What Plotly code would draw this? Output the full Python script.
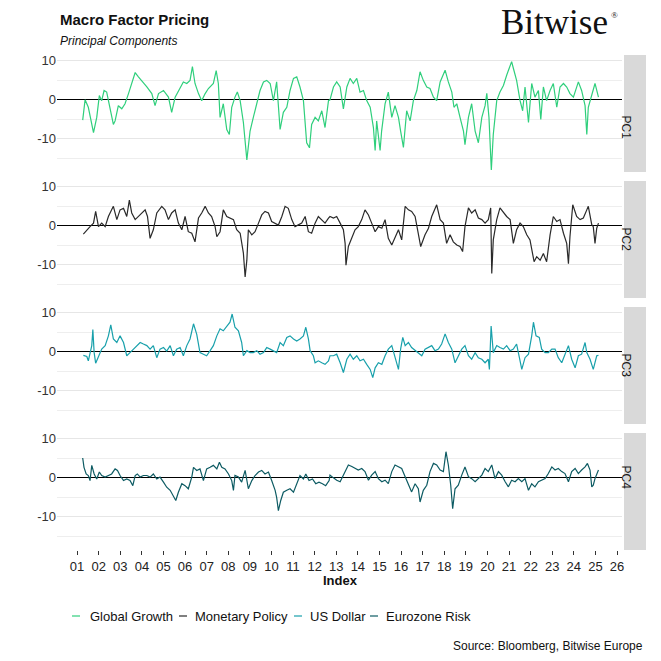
import plotly.graph_objects as go
from plotly.subplots import make_subplots

# ---------------- data (decimal years, factor values) ----------------
gg_year = [2001.26, 2001.37, 2001.52, 2001.76, 2001.91, 2002.03, 2002.14, 2002.25, 2002.37, 2002.53,
           2002.68, 2002.76, 2002.91, 2003.07, 2003.22, 2003.38, 2003.53, 2003.69, 2003.84, 2003.99,
           2004.23, 2004.46, 2004.61, 2004.77, 2005.00, 2005.23, 2005.38, 2005.54, 2005.77, 2005.92,
           2006.08, 2006.23, 2006.34, 2006.46, 2006.62, 2006.77, 2006.93, 2007.08, 2007.31, 2007.44,
           2007.54, 2007.62, 2007.77, 2007.93, 2008.05, 2008.16, 2008.31, 2008.42, 2008.55, 2008.70,
           2008.86, 2009.01, 2009.16, 2009.32, 2009.47, 2009.63, 2009.78, 2009.94, 2010.09, 2010.24,
           2010.40, 2010.55, 2010.71, 2010.86, 2011.02, 2011.17, 2011.32, 2011.48, 2011.63, 2011.76,
           2011.86, 2012.02, 2012.17, 2012.33, 2012.48, 2012.64,
           2012.71, 2012.87, 2013.02, 2013.18, 2013.33, 2013.49, 2013.64, 2013.79, 2013.95, 2014.10,
           2014.26, 2014.41, 2014.57, 2014.72, 2014.80, 2014.87, 2015.03, 2015.10, 2015.26, 2015.41,
           2015.57, 2015.72, 2015.88, 2015.98, 2016.11, 2016.26, 2016.42, 2016.57, 2016.73, 2016.88,
           2017.03, 2017.19, 2017.34, 2017.50, 2017.65, 2017.81, 2018.04, 2018.19, 2018.35, 2018.45,
           2018.58, 2018.73, 2018.89, 2018.96, 2019.12, 2019.27, 2019.43, 2019.58, 2019.74, 2019.89,
           2019.97, 2020.07, 2020.18, 2020.27, 2020.43, 2020.58, 2020.74, 2020.89, 2021.05, 2021.12,
           2021.20, 2021.35, 2021.51, 2021.63, 2021.74, 2021.90, 2022.05, 2022.20, 2022.36, 2022.47,
           2022.59, 2022.74, 2022.90, 2023.05, 2023.21, 2023.36, 2023.52, 2023.67, 2023.82, 2023.98,
           2024.21, 2024.36, 2024.52, 2024.60, 2024.67, 2024.83, 2024.98, 2025.14]
gg_val = [-5.2, 0.0, -1.9, -8.4, -4.5, 1.1, -0.2, 2.4, 2.0, -1.9,
          -6.3, -5.4, -1.5, -2.3, -1.0, 1.6, 4.2, 7.0, 5.9, 5.0,
          3.3, 1.6, -1.5, 1.6, 2.4, 0.7, -3.2, 0.7, 3.3, 4.6,
          4.2, 5.0, 8.5, 4.2, 1.6, -0.2, 1.6, 2.9, 4.2, 7.5,
          4.2, -4.5, -1.0, -7.6, -8.9, -1.9, 0.7, 2.0, -0.2, -5.8,
          -15.4, -8.0, -4.5, -1.0, 2.4, 4.6, 5.0, 4.2, -0.2, 4.6,
          -7.6, -3.2, -1.9, 2.4, 5.5, 5.9, 3.3, -0.2, -11.0, -12.3,
          -6.3, -4.5, -5.4, -2.8, -7.1, -0.2,
          0.0, 3.3, 4.6, 3.3, -2.3, 3.3, 5.5, 4.2, 5.5, 2.0,
          2.4, -0.2, -1.9, -7.1, -13.0, -5.4, -13.0, -8.0, -1.0, 2.0,
          -4.5, -1.5, -4.5, -8.0, -12.2, -2.8, -5.4, -0.2, 2.4, 7.2,
          5.0, 3.3, 2.9, 0.7, -0.2, 4.6, 7.6, 4.6, 2.0, -1.9,
          -1.0, -4.5, -8.0, -11.5, -4.5, -1.0, -8.0, -11.0, -4.5, -1.5,
          1.7, -4.5, -18.0, -8.9, -0.2, 2.0, 3.7, 6.3, 8.5, 9.8,
          8.1, 5.0, -0.2, -2.8, 3.3, -5.8, 4.2, 0.7, 2.4, -5.0,
          3.3, -0.2, 2.4, 4.2, -1.9, 3.3, 4.2, 3.3, 1.6, 0.7,
          4.6, 2.4, -1.5, -8.9, -1.9, 1.6, 4.2, 0.7]

mp_year = [2001.29, 2001.45, 2001.60, 2001.76, 2001.86, 2001.99, 2002.14, 2002.30, 2002.45, 2002.60,
           2002.68, 2002.84, 2002.99, 2003.15, 2003.30, 2003.42, 2003.53, 2003.69, 2003.84, 2003.99,
           2004.15, 2004.26, 2004.38, 2004.53, 2004.69, 2004.92, 2005.07, 2005.23, 2005.38, 2005.54,
           2005.69, 2005.85, 2006.00, 2006.15, 2006.31, 2006.46, 2006.62, 2006.77, 2006.93, 2007.08,
           2007.23, 2007.39, 2007.47, 2007.62, 2007.77, 2007.93, 2008.08, 2008.24, 2008.39, 2008.55,
           2008.70, 2008.78, 2008.86, 2008.93, 2009.09, 2009.24, 2009.40, 2009.55, 2009.70, 2009.86,
           2010.01, 2010.17, 2010.32, 2010.48, 2010.63, 2010.78, 2010.94, 2011.09, 2011.25, 2011.40,
           2011.56, 2011.71, 2011.86, 2012.02, 2012.17, 2012.33, 2012.48, 2012.64,
           2012.71, 2012.87, 2013.02, 2013.18, 2013.33, 2013.41, 2013.45, 2013.56, 2013.72, 2013.87,
           2014.02, 2014.18, 2014.33, 2014.49, 2014.64, 2014.80, 2014.95, 2015.11, 2015.26, 2015.41,
           2015.57, 2015.72, 2015.88, 2016.03, 2016.19, 2016.34, 2016.49, 2016.65, 2016.80, 2016.91,
           2017.11, 2017.27, 2017.42, 2017.57, 2017.65, 2017.81, 2017.96, 2018.11, 2018.27, 2018.42,
           2018.58, 2018.73, 2018.85, 2018.96, 2019.12, 2019.27, 2019.43, 2019.58, 2019.74, 2019.89,
           2020.04, 2020.15, 2020.20, 2020.27, 2020.43, 2020.58, 2020.74, 2020.89, 2021.05, 2021.12,
           2021.20, 2021.35, 2021.51, 2021.66, 2021.82, 2021.97, 2022.05, 2022.16, 2022.28, 2022.44,
           2022.59, 2022.74, 2022.90, 2023.05, 2023.21, 2023.36, 2023.52, 2023.67, 2023.75, 2023.82,
           2023.95, 2024.13, 2024.29, 2024.44, 2024.60, 2024.67, 2024.83, 2024.90, 2024.98, 2025.06,
           2025.14]
mp_val = [-2.1, -1.0, -0.2, 0.7, 3.7, -0.2, 0.7, -0.2, 2.4, 4.1,
          5.0, 1.6, 4.1, 4.5, 2.4, 6.6, 3.3, 1.6, 2.4, 3.3,
          4.1, 2.4, -3.2, -1.0, 3.3, 5.0, 4.1, 1.6, 3.3, 4.1,
          0.7, -1.0, 2.4, -1.5, -1.9, -4.1, 2.0, 3.3, 5.0, 3.3,
          2.4, -0.2, -2.8, -1.5, 4.1, 2.4, 2.0, 1.6, -1.0, -1.9,
          -7.0, -13.1, -8.8, -1.0, -2.3, -1.5, 0.7, 2.8, 3.7, 3.3,
          1.1, 0.7, 0.2, 2.4, 5.0, 4.5, 1.6, -0.2, 0.2, 0.7,
          2.4, -1.5, -1.9, 0.7, 2.4, 1.6, 0.7, 2.0,
          2.4, 2.0, 2.4, 0.7, -1.0, -4.5, -10.1, -5.3, -3.2, -1.0,
          -0.2, 1.6, 4.1, 2.8, 0.7, -1.5, -0.2, -0.6, 1.6, -3.2,
          -4.9, -2.8, -1.0, -3.6, 5.0, 4.1, 3.7, 2.4, -1.9, -5.3,
          -2.3, -0.6, 2.4, 4.1, 5.4, 1.6, 0.7, -4.5, -2.3, -4.1,
          -4.9, -5.3, -6.6, -0.2, 4.6, 3.3, 4.1, 2.0, 1.6, 0.7,
          1.6, 4.6, -12.2, -3.6, 1.6, 4.6, 3.3, 2.4, 1.6, -1.0,
          -4.5, -1.0, 0.7, -0.2, -2.3, -3.6, -6.2, -9.2, -7.9, -8.8,
          -7.1, -9.2, -2.3, 2.4, 1.1, 1.6, -1.9, -4.5, -9.7, -2.8,
          5.4, 2.4, 1.6, 2.0, 4.1, 5.0, 0.3, -0.2, -4.5, -0.6,
          0.7]

usd_year = [2001.29, 2001.45, 2001.52, 2001.60, 2001.68, 2001.73, 2001.79, 2001.86, 2001.99, 2002.14,
            2002.30, 2002.45, 2002.56, 2002.68, 2002.84, 2002.99, 2003.15, 2003.30, 2003.45, 2003.61,
            2003.76, 2003.92, 2004.07, 2004.23, 2004.38, 2004.53, 2004.69, 2004.84, 2005.00, 2005.15,
            2005.31, 2005.46, 2005.61, 2005.77, 2005.92, 2006.08, 2006.23, 2006.39, 2006.54, 2006.69,
            2006.85, 2007.00, 2007.16, 2007.31, 2007.47, 2007.62, 2007.77, 2007.93, 2008.08, 2008.18,
            2008.31, 2008.47, 2008.62, 2008.70, 2008.86, 2009.01, 2009.16, 2009.32, 2009.47, 2009.63,
            2009.78, 2009.94, 2010.09, 2010.24, 2010.40, 2010.55, 2010.71, 2010.86, 2011.02, 2011.17,
            2011.32, 2011.48, 2011.59, 2011.71, 2011.79, 2011.94, 2012.02, 2012.17, 2012.33, 2012.48,
            2012.64,
            2012.71, 2012.87, 2013.02, 2013.18, 2013.33, 2013.49, 2013.64, 2013.79, 2013.95, 2014.10,
            2014.26, 2014.41, 2014.57, 2014.69, 2014.80, 2014.95, 2015.11, 2015.26, 2015.41, 2015.57,
            2015.72, 2015.88, 2015.98, 2016.08, 2016.19, 2016.34, 2016.49, 2016.65, 2016.80, 2016.96,
            2017.11, 2017.27, 2017.42, 2017.57, 2017.73, 2017.88, 2018.04, 2018.19, 2018.35, 2018.50,
            2018.65, 2018.81, 2018.96, 2019.12, 2019.27, 2019.43, 2019.58, 2019.74, 2019.89, 2020.04,
            2020.09, 2020.17, 2020.27, 2020.43, 2020.58, 2020.74, 2020.89, 2021.05, 2021.20, 2021.35,
            2021.51, 2021.59, 2021.74, 2021.90, 2022.05, 2022.13, 2022.25, 2022.40, 2022.51, 2022.67,
            2022.82, 2022.98, 2023.13, 2023.28, 2023.44, 2023.59, 2023.75, 2023.90, 2024.06, 2024.21,
            2024.36, 2024.52, 2024.60, 2024.75, 2024.90, 2025.06, 2025.14]
usd_val = [-0.9, -1.2, -2.3, -0.2, 1.6, 5.7, -0.2, -2.9, -1.0, 0.7,
           1.6, 4.1, 6.9, 3.3, 2.4, 4.1, 2.4, -1.0, -0.2, 0.7,
           1.6, 2.4, 2.0, 1.6, 0.7, 1.6, -1.5, 0.7, 1.1, 0.2,
           1.6, -1.0, 0.7, 1.1, -1.0, 1.6, 3.3, 7.2, 4.5, -0.2,
           -0.6, -1.0, 0.3, 1.6, 4.1, 5.9, 5.4, 6.7, 7.6, 9.7,
           6.3, 5.4, 2.4, -1.0, 0.3, -0.2, -0.2, 0.3, -0.6, -0.2,
           1.1, 0.7, 0.3, -0.2, 2.4, 1.6, 3.7, 4.1, 3.3, 2.8,
           3.3, 4.1, 6.3, 3.3, 0.3, -1.0, -2.8, -2.3, -2.8, -3.2,
           -2.3,
           -1.0, -1.0, -0.6, -2.8, -5.3, -1.9, -0.6, -1.9, -1.0, -2.3,
           -1.9, -3.2, -4.5, -6.6, -4.1, -2.8, -3.2, -1.0, 0.7, 1.6,
           -1.5, -4.5, 0.7, 3.7, 1.6, 2.4, 1.1, 0.3, -0.2, -1.0,
           0.7, 1.1, 1.6, 0.3, 0.7, 2.0, 4.6, 2.4, 0.7, -2.8,
           -1.0, 0.7, 1.6, -1.0, -1.9, -0.2, -1.5, -1.9, -2.8, -1.9,
           -4.5, 6.6, -0.2, 1.6, 1.1, 0.7, 1.6, 0.3, 0.7, 2.0,
           -2.3, -4.5, -1.5, -0.6, 4.1, 7.6, 4.1, 3.7, 0.7, -0.2,
           -0.2, 0.7, 0.7, -1.5, -2.8, -0.6, 1.6, -1.9, -4.1, -1.0,
           -0.6, 2.4, -0.2, -1.9, -4.5, -1.0, -0.9]

ez_year = [2001.26, 2001.32, 2001.42, 2001.52, 2001.60, 2001.68, 2001.79, 2001.91, 2002.03, 2002.14,
           2002.30, 2002.45, 2002.60, 2002.76, 2002.87, 2002.99, 2003.15, 2003.30, 2003.45, 2003.58,
           2003.69, 2003.79, 2003.92, 2004.07, 2004.23, 2004.38, 2004.53, 2004.69, 2004.84, 2005.00,
           2005.15, 2005.31, 2005.46, 2005.57, 2005.69, 2005.85, 2006.00, 2006.15, 2006.31, 2006.39,
           2006.54, 2006.69, 2006.85, 2007.00, 2007.16, 2007.31, 2007.47, 2007.59, 2007.70, 2007.85,
           2008.01, 2008.16, 2008.24, 2008.31, 2008.47, 2008.62, 2008.78, 2008.93, 2009.09, 2009.24,
           2009.40, 2009.55, 2009.70, 2009.86, 2010.01, 2010.17, 2010.24, 2010.32, 2010.43, 2010.55,
           2010.71, 2010.86, 2011.02, 2011.17, 2011.32, 2011.48, 2011.59, 2011.74, 2011.90, 2012.05,
           2012.20, 2012.36, 2012.51, 2012.67,
           2012.71, 2012.87, 2013.02, 2013.18, 2013.33, 2013.41, 2013.56, 2013.72, 2013.87, 2014.02,
           2014.18, 2014.33, 2014.49, 2014.64, 2014.80, 2014.95, 2015.11, 2015.26, 2015.41, 2015.57,
           2015.72, 2015.88, 2016.03, 2016.19, 2016.34, 2016.49, 2016.65, 2016.80, 2016.88, 2017.03,
           2017.19, 2017.34, 2017.50, 2017.65, 2017.81, 2017.96, 2018.08, 2018.19, 2018.30, 2018.39,
           2018.50, 2018.65, 2018.81, 2018.96, 2019.12, 2019.27, 2019.43, 2019.58, 2019.74, 2019.89,
           2020.04, 2020.20, 2020.35, 2020.51, 2020.66, 2020.82, 2020.97, 2021.12, 2021.28, 2021.43,
           2021.59, 2021.74, 2021.90, 2022.05, 2022.20, 2022.36, 2022.51, 2022.67, 2022.82, 2022.98,
           2023.13, 2023.28, 2023.44, 2023.59, 2023.75, 2023.90, 2024.06, 2024.21, 2024.36, 2024.52,
           2024.63, 2024.75, 2024.83, 2024.90, 2024.98, 2025.14]
ez_val = [5.1, 2.7, 1.0, 0.6, -0.7, 3.2, 1.0, -0.3, 1.5, 0.6,
          0.2, 0.6, 1.0, 2.3, 1.9, 0.6, -0.7, -0.3, -0.7, -2.0,
          0.6, 1.0, 0.2, 0.6, 0.6, 0.2, 1.0, -0.3, 0.2, -1.1,
          -2.4, -3.2, -4.5, -5.8, -3.7, -1.5, -2.0, -2.8, 0.2, 2.7,
          1.9, 2.3, -0.7, 2.3, 2.7, 3.2, 2.3, 4.0, 2.7, 2.3,
          1.0, -0.7, -3.2, 0.6, 0.2, -1.1, 1.9, -2.8, -0.7, 0.6,
          1.5, 1.9, 1.0, 1.5, -0.7, -3.2, -5.0, -8.4, -5.8, -3.7,
          -3.2, -2.8, -3.7, -1.5, 0.6, -0.3, 1.0, -0.7, -0.3, -1.5,
          -1.1, -1.5, -2.0, -0.7,
          0.7, 0.0, -0.6, -1.0, 0.7, 2.0, 3.3, 2.9, 2.4, 2.0,
          2.4, 1.6, -0.6, 0.7, 1.6, -0.2, -1.0, -0.6, -1.5, 1.6,
          3.3, 2.8, 2.4, 0.3, -1.5, -3.6, -1.5, -2.8, -6.2, -3.2,
          -1.9, 1.6, 3.7, 3.3, 2.0, 1.6, 6.7, 3.3, -1.9, -7.9,
          -2.8, -1.9, 0.7, 2.8, 0.3, -0.2, -1.0, -0.2, 0.7, 2.4,
          1.6, 3.3, -0.2, 1.6, 0.7, -1.0, -2.3, -0.6, -1.0, -0.2,
          -1.0, -0.2, -3.2, -1.5, -2.3, -1.0, -0.6, -0.2, 1.1, 2.8,
          2.0, 2.4, 1.6, 1.1, -1.0, 1.6, 2.4, 1.1, 2.0, 2.8,
          3.7, 2.0, -2.3, -1.9, -0.2, 2.0]

series_names = ["Global Growth", "Monetary Policy", "US Dollar", "Eurozone Risk"]
panel_labels = ["PC1", "PC2", "PC3", "PC4"]
series_colors = ["#2fcf7c", "#2a2a2a", "#18a0ab", "#0d5b63"]
year_ticks = [2001, 2002, 2003, 2004, 2005, 2006, 2007, 2008, 2009, 2010, 2011, 2012, 2013,
              2014, 2015, 2016, 2017, 2018, 2019, 2020, 2021, 2022, 2023, 2024, 2025, 2026]
year_labels = ["01", "02", "03", "04", "05", "06", "07", "08", "09", "10", "11", "12", "13",
               "14", "15", "16", "17", "18", "19", "20", "21", "22", "23", "24", "25", "26"]
y_ticks = [-10, 0, 10]
y_labels = ["-10", "0", "10"]

# ---------------- figure ----------------
W, H = 661, 661
ML, MR, MT, MB = 57, 39, 55, 111
PW, PH = W - ML - MR, H - MT - MB

def px(x):
    return (x - ML) / PW

def py(y):
    return (H - MB - y) / PH

fig = make_subplots(rows=4, cols=1, shared_xaxes=True, vertical_spacing=9 / PH)

data = [(gg_year, gg_val), (mp_year, mp_val), (usd_year, usd_val), (ez_year, ez_val)]
for i, (xs, ys) in enumerate(data):
    fig.add_trace(go.Scatter(x=xs, y=ys, mode="lines", name=series_names[i],
                             line=dict(color=series_colors[i], width=1.2),
                             showlegend=False), row=i + 1, col=1)

FONT = "Liberation Sans, Arial, sans-serif"
for i in range(4):
    fig.update_yaxes(row=i + 1, col=1, range=[-18.5, 11.5], tickvals=y_ticks, ticktext=y_labels,
                     showgrid=True, gridcolor="#e6e6e6", gridwidth=1,
                     minor=dict(dtick=5, tick0=0, showgrid=True, gridcolor="#eeeeee", gridwidth=1),
                     zeroline=True, zerolinecolor="#000000", zerolinewidth=1.3,
                     ticks="", tickfont=dict(family=FONT, size=13, color="#333333"),
                     showline=False, fixedrange=True)
    last = (i == 3)
    fig.update_xaxes(row=i + 1, col=1, range=[2000.07, 2026.23], showgrid=False, zeroline=False,
                     showline=False, tickvals=year_ticks, ticktext=year_labels,
                     showticklabels=last, ticks="outside" if last else "",
                     ticklen=4, tickwidth=1, tickcolor="#333333",
                     tickfont=dict(family=FONT, size=13, color="#222222"))

shapes = []
annotations = []
# facet strips
for i in range(4):
    yname = "yaxis" if i == 0 else "yaxis%d" % (i + 1)
    d0, d1 = fig.layout[yname].domain
    shapes.append(dict(type="rect", xref="paper", yref="paper", x0=px(624), x1=px(646),
                       y0=d0, y1=d1, fillcolor="#d9d9d9", line=dict(width=0), layer="below"))
    annotations.append(dict(xref="paper", yref="paper", x=px(635), y=(d0 + d1) / 2,
                            text=panel_labels[i], textangle=90, showarrow=False,
                            font=dict(family=FONT, size=12, color="#1a1a1a")))

# title, subtitle, logo
annotations.append(dict(xref="paper", yref="paper", x=px(58), y=py(20), xanchor="left",
                        yanchor="middle", showarrow=False, text="<b>Macro Factor Pricing</b>",
                        font=dict(family=FONT, size=15, color="#111111")))
annotations.append(dict(xref="paper", yref="paper", x=px(58), y=py(41), xanchor="left",
                        yanchor="middle", showarrow=False, text="<i>Principal Components</i>",
                        font=dict(family=FONT, size=12, color="#111111")))
annotations.append(dict(xref="paper", yref="paper", x=px(610), y=py(22), xanchor="right",
                        yanchor="middle", showarrow=False, text="Bitwise",
                        font=dict(family="Liberation Serif, Times New Roman, serif", size=35,
                                  color="#111111")))
annotations.append(dict(xref="paper", yref="paper", x=px(614), y=py(15), xanchor="center",
                        yanchor="middle", showarrow=False, text="®",
                        font=dict(family="Liberation Serif, Times New Roman, serif", size=9,
                                  color="#111111")))
# x-axis title
annotations.append(dict(xref="paper", yref="paper", x=px(340), y=py(580), xanchor="center",
                        yanchor="middle", showarrow=False, text="<b>Index</b>",
                        font=dict(family=FONT, size=13, color="#111111")))

# legend (drawn manually to match short key glyphs)
legend_dash_x = [72, 179, 294, 370]
legend_text_x = [88, 193, 308, 384]
LEG_Y = 616
for i in range(4):
    shapes.append(dict(type="line", xref="paper", yref="paper",
                       x0=px(legend_dash_x[i]), x1=px(legend_dash_x[i] + 8),
                       y0=py(LEG_Y), y1=py(LEG_Y),
                       line=dict(color=series_colors[i], width=1.2)))
    annotations.append(dict(xref="paper", yref="paper", x=px(legend_text_x[i]), y=py(LEG_Y),
                            xanchor="left", yanchor="middle", showarrow=False,
                            text=series_names[i],
                            font=dict(family=FONT, size=13, color="#111111")))

# source
annotations.append(dict(xref="paper", yref="paper", x=px(645), y=py(646), xanchor="right",
                        yanchor="middle", showarrow=False, text="Source: Bloomberg, Bitwise Europe",
                        font=dict(family=FONT, size=12, color="#111111")))

fig.update_layout(width=W, height=H, autosize=False,
                  margin=dict(l=ML, r=MR, t=MT, b=MB, pad=0),
                  paper_bgcolor="#ffffff", plot_bgcolor="#ffffff",
                  shapes=shapes, annotations=annotations, showlegend=False,
                  font=dict(family=FONT))

fig.write_html("out.html", config={"displayModeBar": False},
               post_script="document.body.style.margin='0';document.body.style.overflow='hidden';")
